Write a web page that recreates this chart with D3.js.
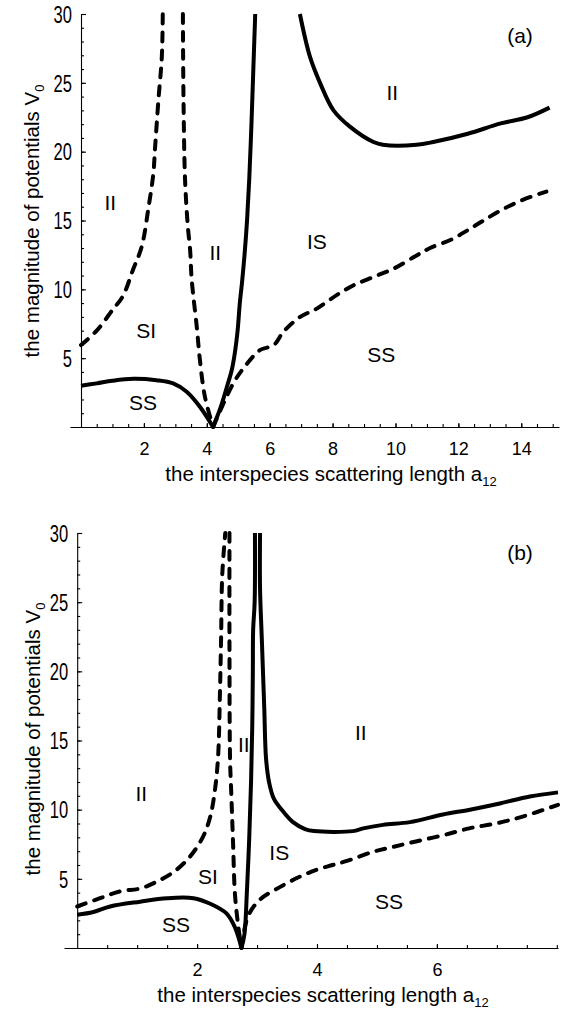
<!DOCTYPE html>
<html>
<head>
<meta charset="utf-8">
<script src="https://cdn.jsdelivr.net/npm/d3@7"></script>
<style>
  body { margin: 0; background: #fff; }
  svg { display: block; font-family: "Liberation Sans", Arial, sans-serif; }
</style>
</head>
<body>
<div id="chart"></div>
<script>
// panel (a) curves, [a12, V0]
const aSolidLow = [[0,3.0],[0.5,3.17],[1.0,3.36],[1.67,3.5],[2.4,3.4],[2.93,3.17],[3.36,2.56],[3.78,1.47],[4.2,0]];
const aSolidMid = [[4.2,0],[4.45,1.5],[4.65,3],[4.8,4.2],[4.9,5.5],[4.98,7],[5.05,9],[5.12,10.5],[5.2,12.5],[5.28,15],[5.35,18],[5.42,22],[5.48,26],[5.54,30]];
const aSolidUp = [[6.96,30],[7.28,26.9],[7.6,25],[8.03,23],[8.56,21.8],[9.3,20.7],[9.6,20.5],[10.67,20.5],[11.2,20.7],[12.3,21.3],[13.35,22.05],[14.2,22.5],[14.9,23.2]];
const aDashLeft = [[0,5.95],[0.5,7.0],[1.0,8.5],[1.33,9.5],[1.65,11.4],[1.93,13.1],[2.15,16.0],[2.3,18.4],[2.35,20.1],[2.46,23.7],[2.57,26.9],[2.6,30]];
const aDashMid = [[3.24,30],[3.26,23.7],[3.31,17.9],[3.4,14.5],[3.47,12.85],[3.52,10.7],[3.68,7.3],[3.78,4.9],[3.94,2.2],[4.2,0]];
const aDashRight = [[4.2,0],[4.85,3.2],[5.28,4.6],[5.7,5.6],[6.13,5.95],[6.43,6.9],[6.97,8.0],[7.5,8.6],[8.14,9.6],[8.67,10.3],[9.3,10.9],[9.94,11.5],[10.7,12.5],[11.1,13.0],[11.76,13.6],[12.3,14.3],[12.8,15.0],[13.4,15.8],[14.05,16.5],[14.8,17.1]];

// panel (b) curves
const bSolidLow = [[0,2.4],[0.27,2.6],[0.55,3.0],[1.05,3.35],[1.5,3.6],[1.94,3.6],[2.22,3.2],[2.49,2.5],[2.63,1.5],[2.74,0]];
const bSolidMid = [[2.74,0],[2.79,1],[2.83,4],[2.87,8],[2.9,12],[2.92,16],[2.93,20],[2.935,23],[2.96,25],[2.965,30]];
const bSolidUp = [[3.05,30],[3.05,26],[3.08,22.3],[3.12,17.4],[3.15,13.7],[3.2,12],[3.28,10.8],[3.43,9.9],[3.6,9.1],[3.8,8.6],[3.95,8.45],[4.6,8.45],[4.77,8.65],[5.1,8.9],[5.55,9.1],[6.1,9.65],[6.55,10.0],[7.05,10.45],[7.55,10.95],[8.02,11.25]];
const bDashLeft = [[0,3],[0.38,3.6],[0.72,4.1],[1.05,4.3],[1.33,4.8],[1.61,5.5],[1.88,6.6],[2.1,8.05],[2.22,9.5],[2.3,11.5],[2.35,13.8],[2.38,18.2],[2.4,22.3],[2.42,27],[2.47,30]];
const bDashMid = [[2.54,30],[2.54,22],[2.55,13.6],[2.57,11.2],[2.6,7.6],[2.63,4],[2.68,1.8],[2.74,0]];
const bDashRight = [[2.74,0],[2.85,2.3],[3.05,3.5],[3.38,4.4],[3.71,5.15],[3.99,5.65],[4.26,6.0],[4.54,6.35],[4.93,6.95],[5.26,7.3],[5.65,7.7],[6.1,8.15],[6.54,8.65],[6.98,9.0],[7.43,9.5],[8.02,10.35]];

// region labels [text, a12, V0]
const aLabels = [["II",0.93,16.3],["II",4.27,12.7],["IS",7.5,13.5],["II",9.9,24.3],["SI",2.07,7.0],["SS",1.97,1.8],["SS",9.55,5.3]];
const bLabels = [["II",1.07,11.2],["II",2.78,14.7],["II",4.73,15.6],["IS",3.37,6.9],["SI",2.18,5.2],["SS",1.65,1.7],["SS",5.2,3.4]];

const yTicks = [5,10,15,20,25,30];
const aXTicks = [2,4,6,8,10,12,14];
const bXTicks = [2,4,6];

const W = 566, H = 1017;
const svg = d3.select("#chart").append("svg").attr("width", W).attr("height", H);

function panel(cfg){
    const x = d3.scaleLinear().domain(cfg.xDomain).range([cfg.left, cfg.right]);
    const y = d3.scaleLinear().domain([0, 30]).range([cfg.bottom, cfg.top]);
    const g = svg.append("g");
    const x0 = x(0);

    // x axis, ticks pointing up
    const minorX = d3.range(0.5, cfg.xDomain[1], 0.5);
    g.append("g")
        .attr("transform", `translate(0,${y(0)})`)
        .call(d3.axisBottom(x).tickValues(minorX).tickSizeInner(-3).tickSizeOuter(0).tickFormat(""))
        .call(a => a.selectAll("path,line").attr("stroke", "#000").attr("stroke-width", 1.1));
    g.append("g")
        .attr("transform", `translate(0,${y(0)})`)
        .call(d3.axisBottom(x).tickValues(cfg.xTicks).tickSizeInner(-4).tickSizeOuter(0).tickPadding(15))
        .call(a => a.select(".domain").remove())
        .call(a => a.selectAll("line").attr("stroke", "#000").attr("stroke-width", 1.1))
        .call(a => a.selectAll("text").attr("font-size", 18).attr("font-family", "Liberation Sans, Arial, sans-serif").attr("fill", "#000"));

    // y axis, ticks pointing right
    const yAxis = d3.scaleLinear().domain([0, 30]).range([cfg.bottom, cfg.top]);
    g.append("g")
        .attr("transform", `translate(${x0},0)`)
        .call(d3.axisLeft(yAxis).tickValues(d3.range(1, 30, 1)).tickSizeInner(-3).tickSizeOuter(0).tickFormat(""))
        .call(a => a.selectAll("path,line").attr("stroke", "#000").attr("stroke-width", 1.1));
    g.append("g")
        .attr("transform", `translate(${x0},0)`)
        .call(d3.axisLeft(yAxis).tickValues(yTicks).tickSizeInner(-5).tickSizeOuter(0))
        .call(a => a.select(".domain").remove())
        .call(a => a.selectAll("line").attr("stroke", "#000").attr("stroke-width", 1.1))
        .call(a => a.selectAll("text")
            .attr("x", null).attr("dy", "0.36em")
            .attr("transform", "translate(-9,0) scale(0.72,1)")
            .attr("font-size", 23).attr("font-family", "Liberation Sans, Arial, sans-serif").attr("fill", "#000"));

    // curves
    const line = d3.line().x(d => x(d[0])).y(d => y(d[1])).curve(d3.curveCatmullRom.alpha(0.5));
    cfg.solid.forEach(c => {
        g.append("path").attr("d", line(c)).attr("fill", "none")
            .attr("stroke", "#000").attr("stroke-width", 4).attr("stroke-linejoin", "round");
    });
    cfg.dashed.forEach(c => {
        g.append("path").attr("d", line(c)).attr("fill", "none")
            .attr("stroke", "#000").attr("stroke-width", 4)
            .attr("stroke-linecap", "round").attr("stroke-dasharray", "9,9");
    });

    // region labels
    g.selectAll(".region").data(cfg.labels).join("text")
        .attr("x", d => x(d[1])).attr("y", d => y(d[2]))
        .attr("dy", "0.36em")
        .attr("text-anchor", "middle").attr("font-size", 21)
        .text(d => d[0]);

    g.append("text").attr("x", cfg.tagX).attr("y", cfg.tagY)
        .attr("text-anchor", "middle").attr("dy", "0.36em").attr("font-size", 21).text(cfg.tag);

    // axis titles
    const xt = g.append("text").attr("x", cfg.xTitleX).attr("y", cfg.xTitleY)
        .attr("text-anchor", "middle").attr("font-size", 20.5);
    xt.append("tspan").text("the interspecies scattering length a");
    xt.append("tspan").attr("font-size", 13).attr("dy", 5).text("12");

    const yt = g.append("text")
        .attr("transform", `translate(${cfg.yTitleX},${cfg.yTitleY}) rotate(-90)`)
        .attr("text-anchor", "middle").attr("font-size", 20.5);
    yt.append("tspan").text("the magnitude of potentials V");
    yt.append("tspan").attr("font-size", 13).attr("dy", 5).text("0");
}

panel({
    xDomain: [-0.35, 15.2], left: 70, right: 559, top: 14, bottom: 427,
    xTicks: aXTicks,
    solid: [aSolidLow, aSolidMid, aSolidUp],
    dashed: [aDashLeft, aDashMid, aDashRight],
    labels: aLabels, tag: "(a)", tagX: 520, tagY: 35,
    xTitleX: 331, xTitleY: 481, yTitleX: 39, yTitleY: 221
});

panel({
    xDomain: [-0.22, 8.02], left: 64, right: 558, top: 533, bottom: 948,
    xTicks: bXTicks,
    solid: [bSolidLow, bSolidMid, bSolidUp],
    dashed: [bDashLeft, bDashMid, bDashRight],
    labels: bLabels, tag: "(b)", tagX: 520, tagY: 552,
    xTitleX: 323, xTitleY: 1002, yTitleX: 40, yTitleY: 739
});
</script>
</body>
</html>
